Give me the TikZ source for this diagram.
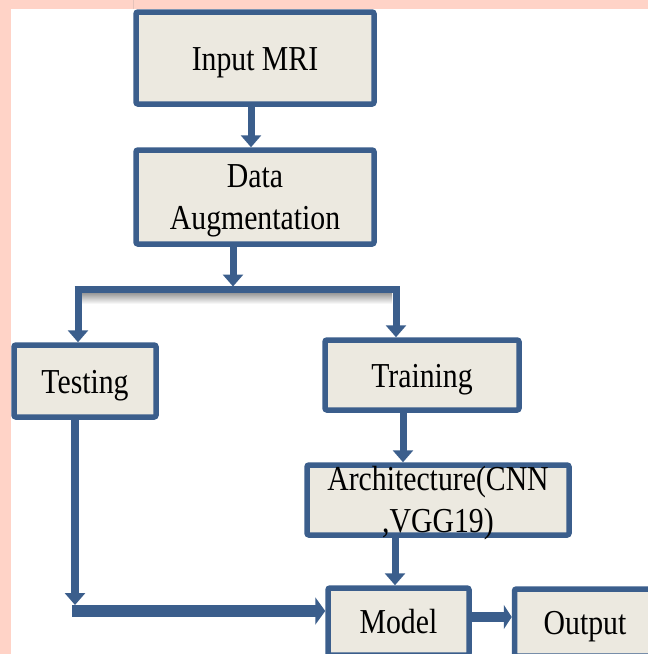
\documentclass[tikz,border=0pt]{standalone}
\usepackage{fontspec}
\setmainfont[FakeStretch=0.85]{Liberation Serif}
\usetikzlibrary{arrows.meta}
\definecolor{bcol}{RGB}{59,94,140}
\definecolor{fcol}{RGB}{236,233,224}
\definecolor{pinkc}{RGB}{255,211,199}
\newcommand{\twolines}[2]{\rule{0pt}{22pt}\smash{#1}\\\smash{#2}}
\tikzset{
  box/.style={draw=bcol, fill=fcol, line width=5.5pt, rounded corners=2pt,
    inner sep=0pt, align=center, font=\fontsize{35}{42}\selectfont},
  one/.style={text height=24pt, text depth=0pt},
  conn/.style={draw=bcol, line width=7pt, -{Triangle[width=20pt,length=12pt]}},
  bar/.style={draw=bcol, line width=7pt},
}
\begin{document}
\begin{tikzpicture}[x=1pt,y=-1pt]
\useasboundingbox (0,0) rectangle (648,654);
\clip (0,0) rectangle (648,654);
\fill[white] (0,0) rectangle (648,654);
\fill[pinkc] (0,0) rectangle (648,9);
\fill[pinkc] (0,0) rectangle (11,654);
\draw[line width=0.8pt, color=pinkc!80!gray] (133.5,0) -- (133.5,9);

% boxes
\node[box, one, minimum width=238pt, minimum height=92pt] (inp) at (255,58) {Input MRI};
\node[box, minimum width=238pt, minimum height=94pt] (aug) at (255,197) {\twolines{Data}{Augmentation}};
\node[box, one, minimum width=142pt, minimum height=72pt] (test) at (85,381) {Testing};
\node[box, one, minimum width=194pt, minimum height=70pt] (train) at (422,375) {Training};
\node[box, minimum width=262pt, minimum height=70pt] (arch) at (438,500) {\twolines{Architecture(CNN}{,VGG19)}};
\node[box, one, minimum width=141pt, minimum height=67pt] (model) at (398.5,621.5) {Model};
\node[box, one, minimum width=141pt, minimum height=67pt] (out) at (585,622.5) {Output};

% coordinates of the split bar
\coordinate (barM) at (233,289.5);
\coordinate (barL) at (78,289.5);
\coordinate (barR) at (396,289.5);
\coordinate (tcorner) at (75,605);
\coordinate (hstart) at (72,611);

% shadow under bar
\shade[top color=black!40, bottom color=white] (82,293) rectangle (392,304);

% connectors
\draw[conn] ([xshift=-4pt]inp.south) -- ([xshift=-4pt]aug.north);
\draw[conn, shorten >=3pt] ([xshift=-22pt]aug.south) -- (barM);
\draw[bar] ([xshift=-3.5pt]barL) -- ([xshift=3.5pt]barR);
\draw[conn] (barL) -- (barL |- test.north);
\draw[conn] (barR) -- (barR |- train.north);
\draw[conn] ([xshift=-19pt]train.south) -- ([xshift=-19pt]train.south |- arch.north);
\draw[conn] ([xshift=-43pt]arch.south) -- ([xshift=-43pt]arch.south |- model.north);
\draw[conn, line width=8pt] ([xshift=-10pt]test.south) -- (tcorner);
\draw[draw=bcol, line width=12pt, -{Triangle[width=27pt,length=10pt]}] (hstart) -- (hstart -| model.west);
\draw[draw=bcol, line width=10pt, -{Triangle[width=24pt,length=8pt]}] ([yshift=4.5pt]model.east) -- ([yshift=4.5pt]model.east -| out.west);
\end{tikzpicture}
\end{document}
